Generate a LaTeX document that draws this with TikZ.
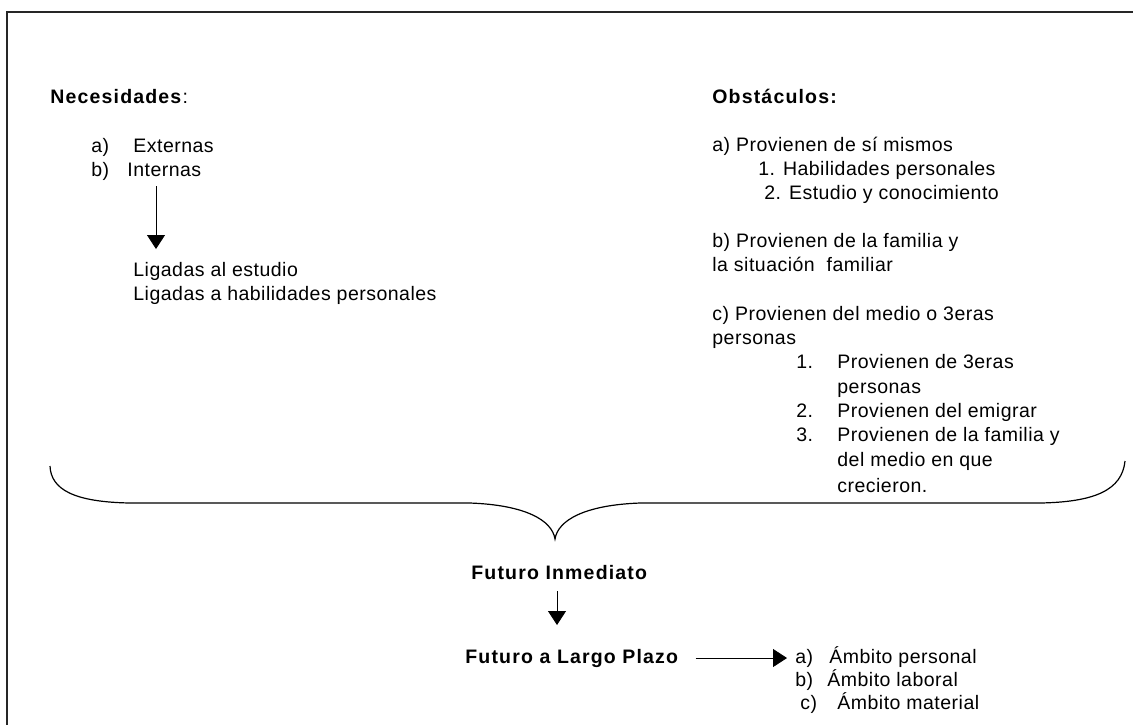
\documentclass[tikz,border=0pt]{standalone}
\usepackage{fontspec}
\setmainfont{Liberation Sans}[LetterSpace=2.5,BoldFeatures={LetterSpace=6}]
\usetikzlibrary{arrows.meta}

\begin{document}
\begin{tikzpicture}[>={Triangle[width=9pt,length=7pt]}, x=0.5pt, y=-0.5pt]
\tikzstyle{every node}=[anchor=base west, inner sep=0pt, font=\fontsize{9.75}{11.25}\selectfont];
\useasboundingbox (0,0) rectangle (1133,725);
% frame
    \draw[line width=0.8pt, black!85] (1133,12) -- (7,12) -- (7,725);
% necesidades
%   nodes
    \node (nec) at (50,103) {\textbf{Necesidades}:};
    \node (ext) at (91,152) {\makebox[21pt][l]{a)}Externas};
    \node (int) at (91,176) {\makebox[18pt][l]{b)}Internas};
    \node (lig1) at (133,276) {Ligadas al estudio};
    \node (lig2) at (133,300) {Ligadas a habilidades personales};
    \coordinate (n1) at (156,186);
    \coordinate (n2) at (156,249);
%   edges
    \draw[->] (n1) -- (n2);
% obstaculos
    \node (obs) at (712,103) {\textbf{Obstáculos:}};
    \node (oa) at (712,151) {a) Provienen de sí mismos};
    \node (oa1) at (758,175) {1. Habilidades personales};
    \node (oa2) at (764,199) {2. Estudio y conocimiento};
    \node (ob) at (712,247) {b) Provienen de la familia y};
    \node (ob2) at (712,271) {la situación\ \ familiar};
    \node (oc) at (712,320) {c) Provienen del medio o 3eras};
    \node (oc2) at (712,344) {personas};
    \node (oc1) at (796,368) {\makebox[20.5pt][l]{1.}Provienen de 3eras};
    \node (oc1b) at (837,393) {personas};
    \node (oc3) at (796,417) {\makebox[20.5pt][l]{2.}Provienen del emigrar};
    \node (oc4) at (796,441) {\makebox[20.5pt][l]{3.}Provienen de la familia y};
    \node (oc4b) at (837,466) {del medio en que};
    \node (oc4c) at (837,492) {crecieron.};
% brace
    \coordinate (bl) at (50,466);
    \coordinate (tip) at (555,539);
    \coordinate (br) at (1125,461);
    \draw[line width=0.6pt] (bl) .. controls (51,490) and (75,502) .. (130,503) -- (470,503)
        .. controls (525,505) and (552,520) .. (tip)
        .. controls (558,520) and (585,505) .. (640,503) -- (1040,503)
        .. controls (1095,502) and (1122,490) .. (br);
% futuro
    \node (fi) at (471,579) {\textbf{Futuro Inmediato}};
    \node (flp) at (465,663) {\textbf{Futuro a Largo Plazo}};
    \node (amba) at (795,663) {\makebox[17pt][l]{a)}Ámbito personal};
    \node (ambb) at (795,686) {\makebox[16pt][l]{b)}Ámbito laboral};
    \node (ambc) at (800,709) {\makebox[18.5pt][l]{c)}Ámbito material};
    \coordinate (f1) at (557,591);
    \coordinate (f2) at (557,625);
    \draw[->] (f1) -- (f2);
    \draw[->, shorten <=8pt, shorten >=4pt] (flp.east) -- (flp.east -| amba.west);
\end{tikzpicture}
\end{document}
